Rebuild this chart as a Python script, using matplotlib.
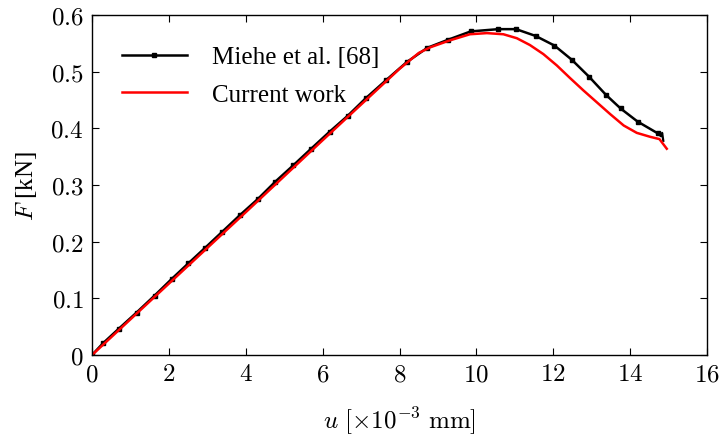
import numpy as np
import matplotlib
matplotlib.use("Agg")
import matplotlib.pyplot as plt

# Miehe et al. [68] reference curve (digitised markers)
miehe_u = [0.0, 0.29, 0.69, 1.16, 1.63, 2.07, 2.51, 2.94, 3.38, 3.85, 4.31,
           4.77, 5.24, 5.70, 6.18, 6.65, 7.12, 7.65, 8.19, 8.72, 9.25, 9.85,
           10.57, 11.03, 11.54, 12.03, 12.48, 12.93, 13.37, 13.75, 14.19, 14.72]
miehe_F = [0.0, 0.021, 0.046, 0.075, 0.105, 0.134, 0.162, 0.189, 0.217, 0.247, 0.275,
           0.306, 0.335, 0.364, 0.394, 0.422, 0.453, 0.485, 0.517, 0.542, 0.556, 0.571,
           0.575, 0.575, 0.563, 0.546, 0.521, 0.491, 0.459, 0.435, 0.412, 0.391]
# short tail after the last marker
miehe_tail_u = [14.72, 14.80, 14.83, 14.86]
miehe_tail_F = [0.391, 0.386, 0.392, 0.378]

# current work
current_u = [0.0, 1.0, 2.0, 4.0, 6.0, 8.0, 8.5, 8.8, 9.3, 9.83, 10.27, 10.70, 11.05,
             11.39, 11.74, 12.09, 12.43, 12.78, 13.13, 13.48, 13.83, 14.17, 14.52,
             14.76, 14.95]
current_F = [0.0, 0.063, 0.126, 0.252, 0.379, 0.505, 0.533, 0.543, 0.555, 0.566, 0.568,
             0.566, 0.559, 0.547, 0.531, 0.511, 0.489, 0.467, 0.446, 0.425, 0.405,
             0.392, 0.385, 0.381, 0.364]

plt.rcParams['mathtext.fontset'] = 'cm'
plt.rcParams['font.family'] = 'Liberation Serif'

fig = plt.figure(figsize=(7.26, 4.39), dpi=100)
ax = fig.add_axes([0.1267, 0.189, 0.8473, 0.7746])

ax.plot(miehe_tail_u, miehe_tail_F, color='black', linewidth=1.6)
ax.plot(miehe_u, miehe_F, color='black', linewidth=1.8, marker='s',
        markersize=3.5, label='Miehe et al. [68]')
ax.plot(current_u, current_F, color='red', linewidth=1.8, label='Current work')

ax.set_xlim(0, 16)
ax.set_ylim(0, 0.6)
ax.set_xticks(np.arange(0, 17, 2))
ax.set_yticks(np.arange(0, 0.61, 0.1))
ax.set_xticklabels(['$%d$' % v for v in np.arange(0, 17, 2)])
ax.set_yticklabels(['$0$'] + ['$%.1f$' % v for v in np.arange(0.1, 0.61, 0.1)])
ax.tick_params(direction='in', top=True, right=True, length=5, labelsize=18, pad=6)
for s in ax.spines.values():
    s.set_linewidth(1.0)

ax.set_xlabel(r'$u\ [\times10^{-3}\ \mathrm{mm}]$', fontsize=18, labelpad=14)
ax.set_ylabel(r'$F$ [kN]', fontsize=18, labelpad=8)

ax.legend(loc='upper left', bbox_to_anchor=(0.012, 0.975), frameon=False,
          fontsize=18, handlelength=2.6, handletextpad=1.0, labelspacing=0.6)

fig.savefig('out.png', dpi=100)
